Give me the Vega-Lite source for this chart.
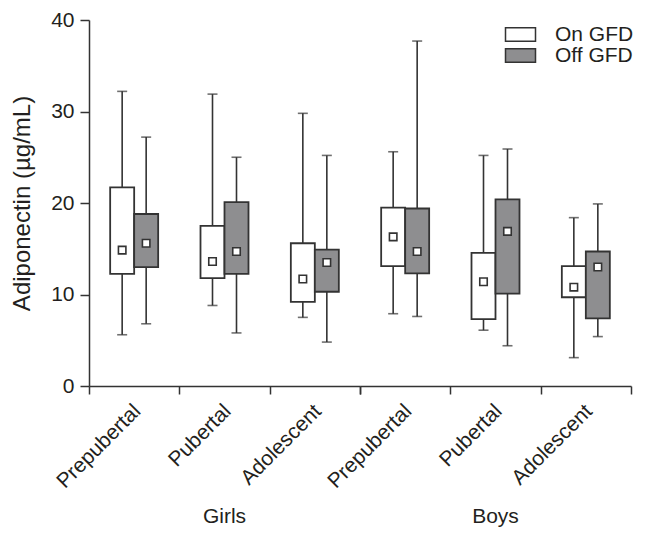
{
  "$schema": "https://vega.github.io/schema/vega-lite/v6.json",
  "padding": {"left": 10, "top": 9, "right": 10, "bottom": 5},
  "data": {"values": [
    {"sex": "Girls", "stage": "Prepubertal", "diet": "On GFD", "min": 5.6, "q1": 12.25, "q3": 21.7, "max": 32.2, "mean": 14.85},
    {"sex": "Girls", "stage": "Prepubertal", "diet": "Off GFD", "min": 6.8, "q1": 13.0, "q3": 18.8, "max": 27.2, "mean": 15.6},
    {"sex": "Girls", "stage": "Pubertal", "diet": "On GFD", "min": 8.8, "q1": 11.8, "q3": 17.5, "max": 31.9, "mean": 13.6},
    {"sex": "Girls", "stage": "Pubertal", "diet": "Off GFD", "min": 5.8, "q1": 12.25, "q3": 20.1, "max": 25.0, "mean": 14.7},
    {"sex": "Girls", "stage": "Adolescent", "diet": "On GFD", "min": 7.5, "q1": 9.2, "q3": 15.6, "max": 29.8, "mean": 11.7},
    {"sex": "Girls", "stage": "Adolescent", "diet": "Off GFD", "min": 4.8, "q1": 10.3, "q3": 14.9, "max": 25.2, "mean": 13.5},
    {"sex": "Boys", "stage": "Prepubertal", "diet": "On GFD", "min": 7.9, "q1": 13.1, "q3": 19.5, "max": 25.6, "mean": 16.3},
    {"sex": "Boys", "stage": "Prepubertal", "diet": "Off GFD", "min": 7.6, "q1": 12.3, "q3": 19.4, "max": 37.7, "mean": 14.7},
    {"sex": "Boys", "stage": "Pubertal", "diet": "On GFD", "min": 6.1, "q1": 7.3, "q3": 14.55, "max": 25.2, "mean": 11.4},
    {"sex": "Boys", "stage": "Pubertal", "diet": "Off GFD", "min": 4.4, "q1": 10.1, "q3": 20.4, "max": 25.9, "mean": 16.9},
    {"sex": "Boys", "stage": "Adolescent", "diet": "On GFD", "min": 3.1, "q1": 9.7, "q3": 13.1, "max": 18.4, "mean": 10.8},
    {"sex": "Boys", "stage": "Adolescent", "diet": "Off GFD", "min": 5.4, "q1": 7.4, "q3": 14.7, "max": 19.9, "mean": 13.0}
  ]},
  "facet": {
    "column": {
      "field": "sex", "type": "nominal", "sort": ["Girls", "Boys"],
      "header": {"title": null, "labelOrient": "bottom", "labelFontSize": 21, "labelFont": "Liberation Sans", "labelColor": "#231f20", "labelPadding": 14}
    }
  },
  "spacing": 0,
  "spec": {
    "width": 271,
    "height": 366,
    "encoding": {
      "x": {
        "field": "stage", "type": "nominal", "sort": ["Prepubertal", "Pubertal", "Adolescent"],
        "scale": {"paddingInner": 0, "paddingOuter": 0},
        "title": null,
        "axis": {"labelAngle": -45, "labelAlign": "right", "labelBaseline": "top", "labelFontSize": 21, "tickBand": "extent", "tickSize": 8, "labelPadding": 6, "labelOffset": -5}
      },
      "xOffset": {
        "field": "diet", "type": "nominal", "sort": ["On GFD", "Off GFD"],
        "scale": {"paddingInner": 0, "paddingOuter": 0.882}
      }
    },
    "layer": [
      {
        "mark": {"type": "rule", "color": "#333333", "strokeWidth": 1.6},
        "encoding": {
          "y": {"field": "min", "type": "quantitative", "scale": {"domain": [0, 40], "nice": false}, "title": "Adiponectin (µg/mL)",
            "axis": {"values": [0, 10, 20, 30, 40], "tickSize": 9, "labelFontSize": 21, "titleFontSize": 24, "titleFontWeight": "normal", "titlePadding": 16, "labelPadding": 6, "grid": false}},
          "y2": {"field": "max"}
        }
      },
      {
        "mark": {"type": "bar", "stroke": "#333333", "strokeWidth": 1.8},
        "encoding": {
          "y": {"field": "q1", "type": "quantitative"},
          "y2": {"field": "q3"},
          "fill": {
            "field": "diet", "type": "nominal", "sort": ["On GFD", "Off GFD"],
            "scale": {"domain": ["On GFD", "Off GFD"], "range": ["#ffffff", "#8e8e90"]},
            "legend": {"title": null, "orient": "none", "legendX": 421, "legendY": 4, "symbolType": "M-2,-0.9H2V0.9H-2Z", "symbolSize": 225, "symbolStrokeColor": "#333333", "symbolStrokeWidth": 1.5, "labelFontSize": 21, "labelOffset": 24, "rowPadding": -1, "labelLimit": 300}
          }
        }
      },
      {
        "mark": {"type": "tick", "color": "#333333", "thickness": 1.6, "size": 10, "orient": "horizontal"},
        "encoding": {"y": {"field": "min", "type": "quantitative"}}
      },
      {
        "mark": {"type": "tick", "color": "#333333", "thickness": 1.6, "size": 10, "orient": "horizontal"},
        "encoding": {"y": {"field": "max", "type": "quantitative"}}
      },
      {
        "mark": {"type": "point", "shape": "square", "filled": true, "color": "#ffffff", "stroke": "#333333", "strokeWidth": 1.6, "size": 56, "opacity": 1},
        "encoding": {"y": {"field": "mean", "type": "quantitative"}}
      }
    ]
  },
  "config": {
    "font": "Liberation Sans",
    "view": {"stroke": null},
    "axis": {"domainColor": "#333333", "domainWidth": 1.5, "tickColor": "#333333", "tickWidth": 1.5, "labelColor": "#231f20", "titleColor": "#231f20", "labelFont": "Liberation Sans", "titleFont": "Liberation Sans"},
    "legend": {"labelColor": "#231f20", "labelFont": "Liberation Sans"}
  }
}
